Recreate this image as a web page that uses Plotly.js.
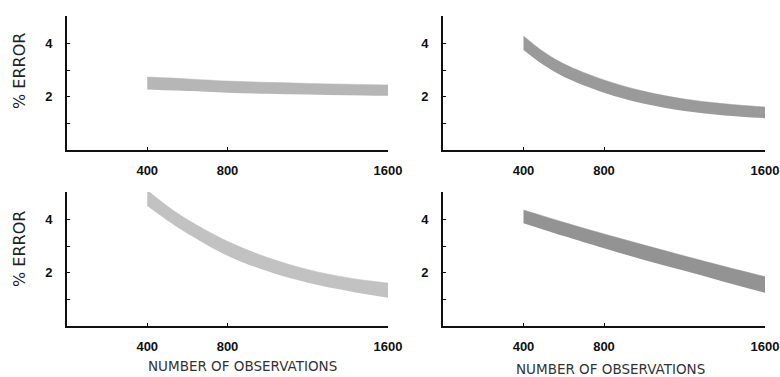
<!DOCTYPE html>
<html>
<head>
<meta charset="utf-8">
<script src="https://cdn.plot.ly/plotly-3.0.1.min.js"></script>
<style>html,body{margin:0;padding:0;background:#fff;}#chart{width:780px;height:377px;}</style>
</head>
<body>
<div id="chart"></div>
<script>
// Number of observations (x positions where the band edges were read)
const obs = [400, 500, 600, 800, 1000, 1200, 1400, 1600];

// Panel A (top-left): % error band
const aUpper = [2.75, 2.72, 2.68, 2.60, 2.55, 2.51, 2.48, 2.45];
const aLower = [2.28, 2.25, 2.22, 2.16, 2.12, 2.09, 2.06, 2.04];

// Panel B (top-right)
const bUpper = [4.30, 3.70, 3.25, 2.64, 2.21, 1.92, 1.74, 1.62];
const bLower = [3.77, 3.20, 2.76, 2.16, 1.74, 1.47, 1.30, 1.20];

// Panel C (bottom-left)
const cUpper = [5.12, 4.52, 4.01, 3.19, 2.58, 2.13, 1.82, 1.62];
const cLower = [4.52, 3.98, 3.49, 2.65, 2.06, 1.63, 1.32, 1.06];

// Panel D (bottom-right)
const dUpper = [4.37, 4.14, 3.91, 3.47, 3.05, 2.64, 2.24, 1.86];
const dLower = [3.87, 3.63, 3.39, 2.93, 2.49, 2.08, 1.66, 1.25];

// Tick labels
const xTickVals = [400, 800, 1600];
const xTickText = ['400', '800', '1600'];
const yTickVals = [1, 2, 3, 4];
const yTickText = ['', '2', '', '4'];

const yTitle = '% ERROR';
const xTitle = 'NUMBER OF OBSERVATIONS';

const panels = [
  {up: aUpper, lo: aLower, color: '#b6b6b6', xa: 'x',  ya: 'y'},
  {up: bUpper, lo: bLower, color: '#9a9a9a', xa: 'x2', ya: 'y2'},
  {up: cUpper, lo: cLower, color: '#c2c2c2', xa: 'x3', ya: 'y3'},
  {up: dUpper, lo: dLower, color: '#939393', xa: 'x4', ya: 'y4'}
];

const traces = [];
panels.forEach(p => {
  traces.push({x: obs, y: p.lo, xaxis: p.xa, yaxis: p.ya, mode: 'lines',
    line: {width: 0, shape: 'spline', color: p.color}, hoverinfo: 'skip', showlegend: false});
  traces.push({x: obs, y: p.up, xaxis: p.xa, yaxis: p.ya, mode: 'lines', fill: 'tonexty',
    fillcolor: p.color, line: {width: 0.5, shape: 'spline', color: p.color}, hoverinfo: 'skip', showlegend: false});
});

const tickFont = {family: 'Liberation Sans, Arial, sans-serif', size: 13, color: '#111', weight: 'bold'};

function xAxis(domain, anchor) {
  return {domain: domain, anchor: anchor, range: [0, 1600], showgrid: false, zeroline: false,
    showline: true, linecolor: '#111', linewidth: 2, ticks: 'inside', ticklen: 3, tickcolor: '#111',
    tickvals: xTickVals, ticktext: xTickText, tickfont: tickFont, ticklabelstandoff: 7, fixedrange: true};
}
function yAxis(domain, anchor) {
  return {domain: domain, anchor: anchor, range: [0, 5.05], showgrid: false, zeroline: false,
    showline: true, linecolor: '#111', linewidth: 2, ticks: 'inside', ticklen: 3, tickcolor: '#111',
    tickvals: yTickVals, ticktext: yTickText, tickfont: tickFont, ticklabelstandoff: 10, fixedrange: true};
}

const dxL = [67/780, 388/780], dxR = [443/780, 765/780];
const dyT = [1 - 150/377, 1 - 16/377], dyB = [1 - 326/377, 1 - 192/377];

const titleFont = {family: 'DejaVu Sans, sans-serif', size: 13.5, color: '#333'};
const yTitleFont = {family: 'DejaVu Sans, sans-serif', size: 16, color: '#222'};

const layout = {
  width: 780, height: 377,
  margin: {l: 0, r: 0, t: 0, b: 0},
  paper_bgcolor: '#fff', plot_bgcolor: '#fff',
  showlegend: false,
  xaxis: xAxis(dxL, 'y'), yaxis: yAxis(dyT, 'x'),
  xaxis2: xAxis(dxR, 'y2'), yaxis2: yAxis(dyT, 'x2'),
  xaxis3: xAxis(dxL, 'y3'), yaxis3: yAxis(dyB, 'x3'),
  xaxis4: xAxis(dxR, 'y4'), yaxis4: yAxis(dyB, 'x4'),
  annotations: [
    {text: yTitle, xref: 'paper', yref: 'paper', x: 20/780, y: 1 - 71/377, textangle: -90,
      showarrow: false, font: yTitleFont, xanchor: 'center', yanchor: 'middle'},
    {text: yTitle, xref: 'paper', yref: 'paper', x: 20/780, y: 1 - 249/377, textangle: -90,
      showarrow: false, font: yTitleFont, xanchor: 'center', yanchor: 'middle'},
    {text: xTitle, xref: 'paper', yref: 'paper', x: 242/780, y: 1 - 366/377,
      showarrow: false, font: titleFont, xanchor: 'center', yanchor: 'middle'},
    {text: xTitle, xref: 'paper', yref: 'paper', x: 610/780, y: 1 - 369/377,
      showarrow: false, font: titleFont, xanchor: 'center', yanchor: 'middle'}
  ]
};

Plotly.newPlot('chart', traces, layout, {displayModeBar: false, staticPlot: true});
</script>
</body>
</html>
